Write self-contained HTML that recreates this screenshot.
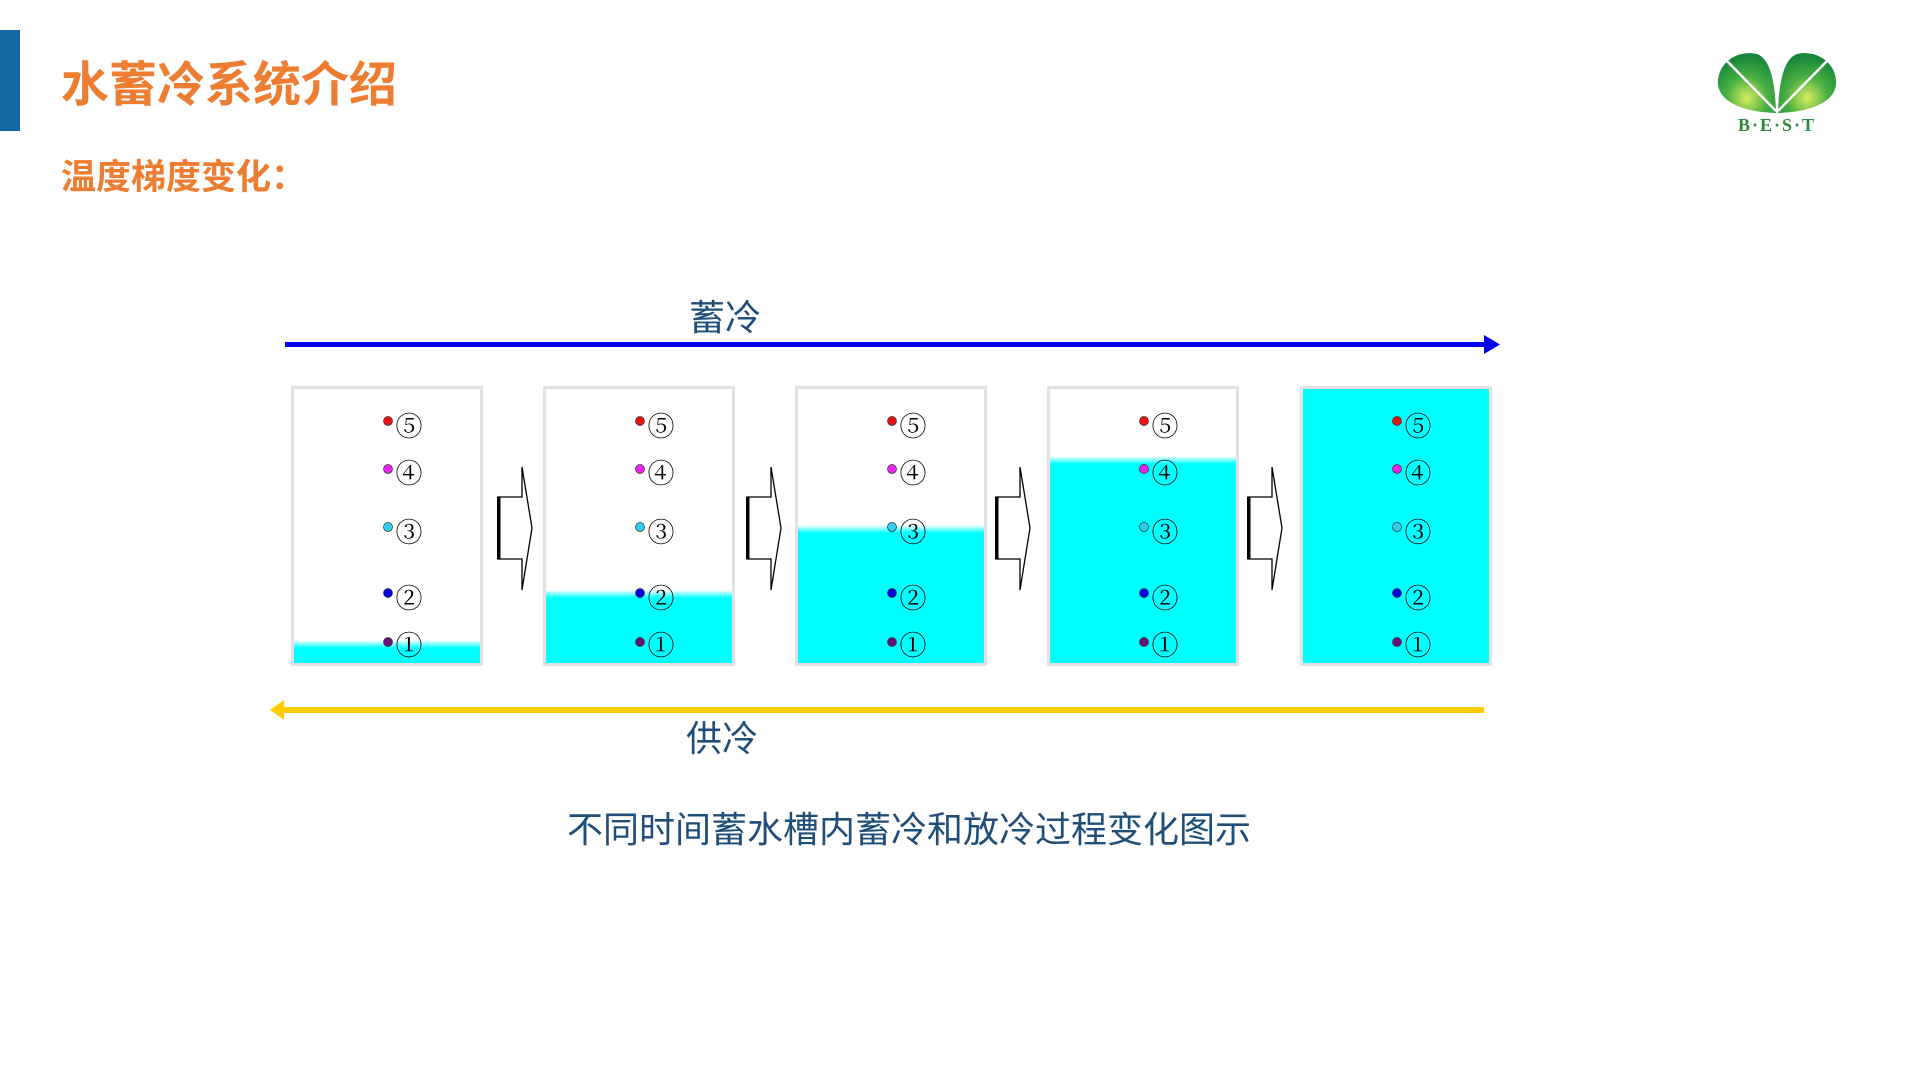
<!DOCTYPE html>
<html><head><meta charset="utf-8"><style>
html,body{margin:0;padding:0;background:#fff;}
svg{display:block}
</style></head><body>
<svg width="1920" height="1080" viewBox="0 0 1920 1080" xmlns="http://www.w3.org/2000/svg">
<defs>
<linearGradient id="wg" x1="0" y1="0" x2="0" y2="1">
<stop offset="0" stop-color="#00ffff" stop-opacity="0"/>
<stop offset="1" stop-color="#00ffff"/>
</linearGradient>
<radialGradient id="lg" cx="0.5" cy="0.75" r="0.7">
<stop offset="0" stop-color="#d8ec60"/>
<stop offset="0.5" stop-color="#4bb042"/>
<stop offset="1" stop-color="#17873a"/>
</radialGradient>
<g id="dots">
<circle cx="97" cy="421" r="4.5" fill="#ee1111" stroke="#333" stroke-width="0.7"/><text x="118" y="436">⑤</text>
<circle cx="97" cy="469" r="4.5" fill="#ee22ee" stroke="#333" stroke-width="0.7"/><text x="118" y="483">④</text>
<circle cx="97" cy="527" r="4.5" fill="#33ccee" stroke="#333" stroke-width="0.7"/><text x="118" y="542">③</text>
<circle cx="97" cy="593" r="4.5" fill="#0000dd" stroke="#333" stroke-width="0.7"/><text x="118" y="608">②</text>
<circle cx="97" cy="642" r="4.5" fill="#661177" stroke="#333" stroke-width="0.7"/><text x="118" y="655">①</text>
</g>
<g id="arr">
<polygon points="498,497 522,497 522,467 532,528 522,590 522,559 498,559" fill="#fff" stroke="#000" stroke-width="1.3"/>
<rect x="497" y="497" width="3.5" height="62" fill="#000"/>
</g>
</defs>
<rect x="0" y="30" width="20" height="101" fill="#1569a1"/>
<text x="61" y="101" font-family="Liberation Sans, Noto Sans CJK SC, sans-serif" font-weight="bold" font-size="48" fill="#ed7d31">水蓄冷系统介绍</text>
<text x="61" y="189" font-family="Liberation Sans, Noto Sans CJK SC, sans-serif" font-weight="bold" font-size="35" fill="#ed7d31">温度梯度变化：</text>

<path d="M1776,113 C1740,112 1716,100 1718,80 C1720,60 1740,50 1757,54 C1768,58 1775,75 1776,113 Z" fill="url(#lg)"/>
<path d="M1778,113 C1814,112 1838,100 1836,80 C1834,60 1814,50 1797,54 C1786,58 1779,75 1778,113 Z" fill="url(#lg)"/>
<line x1="1727" y1="61" x2="1776" y2="111" stroke="#fff" stroke-width="2.5"/>
<line x1="1827" y1="61" x2="1778" y2="111" stroke="#fff" stroke-width="2.5"/>
<text x="1777" y="131" text-anchor="middle" font-family="Liberation Serif, serif" font-weight="bold" font-size="18" letter-spacing="2" fill="#2a8a3a">B·E·S·T</text>

<text x="689" y="330" font-family="Liberation Sans, Noto Sans CJK SC, sans-serif" font-size="36" fill="#1f4e79">蓄冷</text>
<rect x="285" y="342" width="1202" height="5" fill="#0000ee"/>
<polygon points="1484,335 1500,344.5 1484,354" fill="#0000ee"/>

<rect x="282" y="707" width="1202" height="6" fill="#ffcc00"/>
<polygon points="284,700 270,710 284,720" fill="#ffcc00"/>
<text x="686" y="751" font-family="Liberation Sans, Noto Sans CJK SC, sans-serif" font-size="36" fill="#1f4e79">供冷</text>

<text x="909" y="842" text-anchor="middle" font-family="Liberation Sans, Noto Sans CJK SC, sans-serif" font-size="36" fill="#1f4e79">不同时间蓄水槽内蓄冷和放冷过程变化图示</text>

<g>
<rect x="292.5" y="387.5" width="189" height="277" fill="#fff" stroke="#e2e2e2" stroke-width="3"/>
<rect x="294" y="640" width="186" height="8" fill="url(#wg)"/><rect x="294" y="648" width="186" height="15" fill="#00ffff"/>
<rect x="544.5" y="387.5" width="189" height="277" fill="#fff" stroke="#e2e2e2" stroke-width="3"/>
<rect x="546" y="590" width="186" height="8" fill="url(#wg)"/><rect x="546" y="598" width="186" height="65" fill="#00ffff"/>
<rect x="796.5" y="387.5" width="189" height="277" fill="#fff" stroke="#e2e2e2" stroke-width="3"/>
<rect x="798" y="525" width="186" height="8" fill="url(#wg)"/><rect x="798" y="533" width="186" height="130" fill="#00ffff"/>
<rect x="1048.5" y="387.5" width="189" height="277" fill="#fff" stroke="#e2e2e2" stroke-width="3"/>
<rect x="1050" y="456" width="186" height="8" fill="url(#wg)"/><rect x="1050" y="464" width="186" height="199" fill="#00ffff"/>
<rect x="1301.5" y="387.5" width="189" height="277" fill="#00ffff" stroke="#e2e2e2" stroke-width="3"/>
</g>

<g font-family="Noto Serif CJK SC, Liberation Serif, serif" font-size="27" fill="#000" text-anchor="middle">
<use href="#dots" transform="translate(291,0)"/>
<use href="#dots" transform="translate(543,0)"/>
<use href="#dots" transform="translate(795,0)"/>
<use href="#dots" transform="translate(1047,0)"/>
<use href="#dots" transform="translate(1300,0)"/>
</g>

<use href="#arr"/>
<use href="#arr" transform="translate(249,0)"/>
<use href="#arr" transform="translate(498,0)"/>
<use href="#arr" transform="translate(750,0)"/>
</svg>
</body></html>
